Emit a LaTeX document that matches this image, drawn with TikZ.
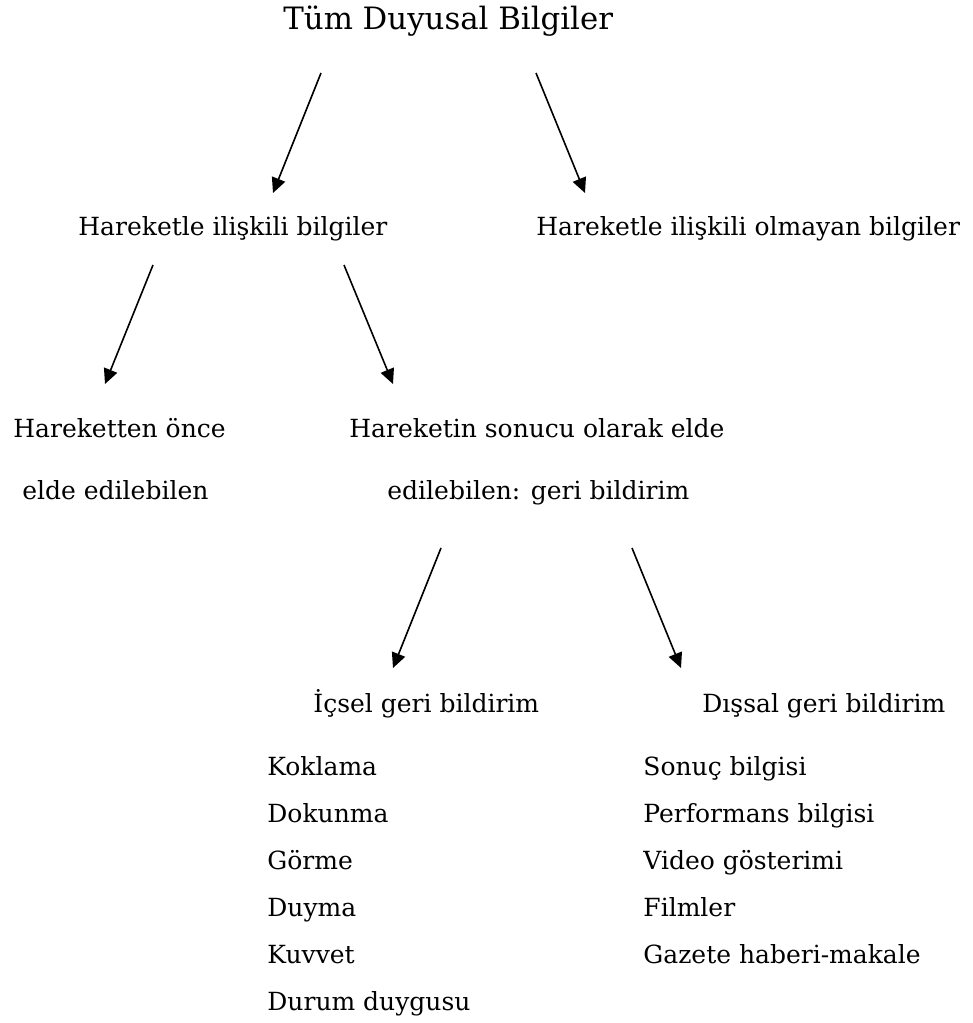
\documentclass[tikz,border=0pt]{standalone}
\usepackage{fontspec}
\setmainfont{DejaVu Serif}
\usetikzlibrary{arrows.meta}

\begin{document}
\begin{tikzpicture}[x=0.5pt, y=-0.5pt,
    >={Triangle[length=7.5pt, width=7pt]},
    lbl/.style={anchor=base west, inner sep=0pt, font=\fontsize{12.5}{15}\selectfont},
    arr/.style={->, line width=0.8pt}]
  \useasboundingbox (0,0) rectangle (973,1023);

  % levels of the tree
  \node[lbl, font=\fontsize{15.4}{18}\selectfont] (root) at (283,29) {Tüm Duyusal Bilgiler};
  \node[lbl] (move)    at (78,235)  {Hareketle ilişkili bilgiler};
  \node[lbl] (nomove)  at (536,235) {Hareketle ilişkili olmayan bilgiler};
  \node[lbl] (before1) at (13,437)  {Hareketten önce};
  \node[lbl] (before2) at (22,499)  {elde edilebilen};
  \node[lbl] (after1)  at (349,437) {Hareketin sonucu olarak elde};
  \node[lbl] (after2)  at (387,499) {edilebilen: geri bildirim};
  \node[lbl] (inner)   at (313,712) {İçsel geri bildirim};
  \node[lbl] (outer)   at (702,712) {Dışsal geri bildirim};

  % lists
  \foreach \t [count=\i] in {Koklama, Dokunma, Görme, Duyma, Kuvvet, Durum duygusu}
    \node[lbl] (in\i) at (267,728+47*\i) {\t};
  \foreach \t [count=\i] in {Sonuç bilgisi, Performans bilgisi, Video gösterimi, Filmler, Gazete haberi-makale}
    \node[lbl] (out\i) at (643,728+47*\i) {\t};

  % arrow ends
  \coordinate (r1) at (321,73);  \coordinate (m1) at (273,193);
  \coordinate (r2) at (536,73);  \coordinate (n1) at (585,193);
  \coordinate (m2) at (153,265); \coordinate (b1) at (105,384);
  \coordinate (m3) at (344,265); \coordinate (a1) at (393,384);
  \coordinate (a2) at (441,548); \coordinate (i1) at (393,668);
  \coordinate (a3) at (632,548); \coordinate (o1) at (681,668);

  \draw[arr] (r1) -- (m1);
  \draw[arr] (r2) -- (n1);
  \draw[arr] (m2) -- (b1);
  \draw[arr] (m3) -- (a1);
  \draw[arr] (a2) -- (i1);
  \draw[arr] (a3) -- (o1);
\end{tikzpicture}
\end{document}
